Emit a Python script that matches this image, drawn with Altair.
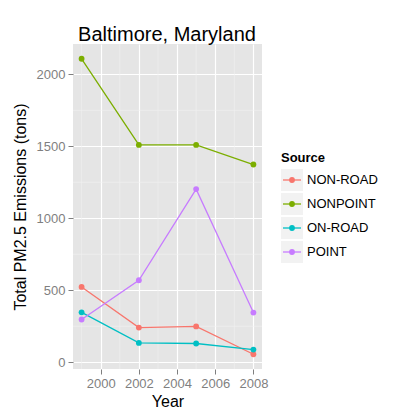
import altair as alt
import pandas as pd

sources = ["NON-ROAD", "NONPOINT", "ON-ROAD", "POINT"]
colors = ["#F8766D", "#7CAE00", "#00BFC4", "#C77CFF"]
years = [1999, 2002, 2005, 2008]
non_road = [522.94, 240.85, 248.93, 55.82]
nonpoint = [2107.63, 1509.50, 1509.50, 1373.21]
on_road = [346.82, 134.31, 130.43, 88.28]
point = [296.80, 569.26, 1202.49, 344.98]

x_ticks = [2000, 2002, 2004, 2006, 2008]
y_ticks = [0, 500, 1000, 1500, 2000]
minor_x = [1999, 2001, 2003, 2005, 2007]
minor_y = [250, 750, 1250, 1750]

rows = []
for s, vals in zip(sources, [non_road, nonpoint, on_road, point]):
    for yr, v in zip(years, vals):
        rows.append({"Source": s, "Year": yr, "Emissions": v})
df = pd.DataFrame(rows)

font = "Liberation Sans"
color_scale = alt.Scale(domain=sources, range=colors)
x_scale = alt.Scale(domain=[1998.55, 2008.45], nice=False, zero=False)
y_scale = alt.Scale(domain=[-46.8, 2210.2], nice=False, zero=False)

mx = alt.Chart(pd.DataFrame({"v": minor_x})).mark_rule(
    color="#F2F2F2", strokeWidth=0.6
).encode(x=alt.X("v:Q", scale=x_scale))
my = alt.Chart(pd.DataFrame({"v": minor_y})).mark_rule(
    color="#F2F2F2", strokeWidth=0.6
).encode(y=alt.Y("v:Q", scale=y_scale))

base = alt.Chart(df).encode(
    x=alt.X("Year:Q", scale=x_scale,
            axis=alt.Axis(values=x_ticks, format="d", title="Year")),
    y=alt.Y("Emissions:Q", scale=y_scale,
            axis=alt.Axis(values=y_ticks, format="d",
                          title="Total PM2.5 Emissions (tons)")),
    color=alt.Color("Source:N", scale=color_scale, legend=None),
)
lines = base.mark_line(strokeWidth=1.3)
pts = base.mark_circle(size=34, opacity=1)

main = alt.layer(mx, my, lines, pts).properties(
    width=189, height=325,
    view=alt.ViewBackground(fill="#E5E5E5", stroke=None),
)

# legend panel
leg_df = pd.DataFrame({"Source": sources})
ly = alt.Y("Source:N", scale=alt.Scale(type="point", domain=sources,
                                       range=[136, 208], padding=0), axis=None)
keys = alt.Chart(leg_df).mark_point(
    shape="square", filled=True, size=484, color="#F2F2F2", opacity=1
).encode(x=alt.value(11), y=ly)
krule = alt.Chart(leg_df).mark_rule(strokeWidth=1.3).encode(
    x=alt.value(2), x2=alt.value(20), y=ly,
    color=alt.Color("Source:N", scale=color_scale, legend=None))
kpt = alt.Chart(leg_df).mark_circle(size=34, opacity=1).encode(
    x=alt.value(11), y=ly,
    color=alt.Color("Source:N", scale=color_scale, legend=None))
ktext = alt.Chart(leg_df).mark_text(
    align="left", baseline="middle", fontSize=13, font=font, color="black"
).encode(x=alt.value(26), y=ly, text="Source:N")
ktitle = alt.Chart(pd.DataFrame({"t": ["Source"]})).mark_text(
    align="left", baseline="middle", fontSize=13, fontWeight="bold",
    font=font, color="black"
).encode(x=alt.value(0), y=alt.value(114), text="t:N")

legend = alt.layer(keys, krule, kpt, ktext, ktitle).properties(
    width=110, height=325,
    view=alt.ViewBackground(fill=None, stroke=None),
)

chart = alt.hconcat(main, legend, spacing=19, bounds="flush").properties(
    title=alt.Title("Baltimore, Maryland", fontSize=20, font=font,
                    fontWeight="normal", color="black", anchor="start",
                    dx=66, offset=-1),
    padding={"left": 12, "top": 24, "right": 5, "bottom": 5},
).configure(font=font).configure_view(
    stroke=None
).configure_axis(
    grid=True, gridColor="white", gridWidth=1.2,
    domain=False, tickColor="#7F7F7F", tickSize=5, tickWidth=1,
    labelColor="#7F7F7F", labelFontSize=13, labelFont=font,
    titleFont=font, titleFontSize=16, titleFontWeight="normal",
    titleColor="black", labelPadding=3,
).configure_axisX(titlePadding=3, labelPadding=3).configure_axisY(titlePadding=8)

chart.save("out.html", embed_options={"renderer": "svg", "actions": False})
